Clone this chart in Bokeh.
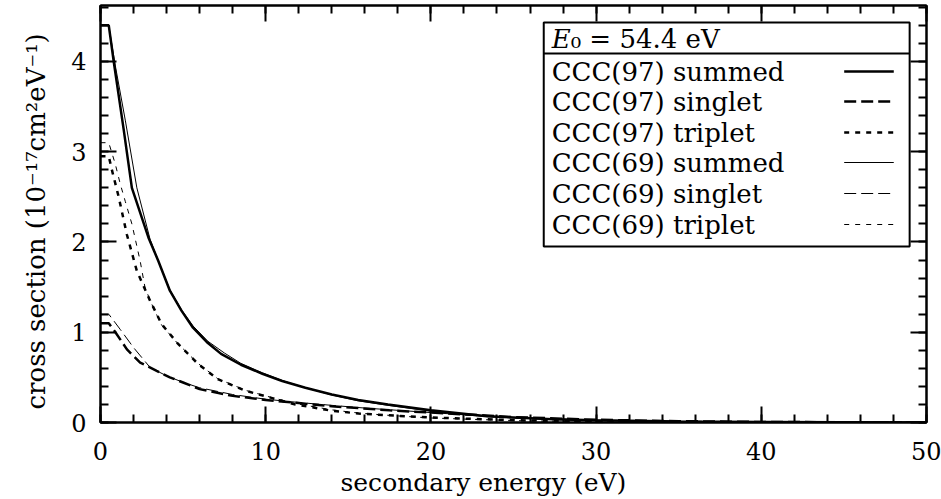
from bokeh.plotting import figure
from bokeh.models import (Range1d, LinearAxis, SingleIntervalTicker, Title,
                          CustomJSTickFormatter)
from bokeh.embed import file_html
from bokeh.resources import INLINE
from bokeh.core.properties import value

# ---------------- data ----------------
x_sum97 = [0, 0.5, 0.8, 1.4, 1.9, 2.9, 3.5, 4.2, 4.9, 5.6, 6.5, 7.3, 8.5, 9.8, 11, 12.4, 14, 15.6, 17.4, 20, 23.4, 27.4, 30, 35, 40, 45, 50]
y_sum97 = [4.4, 4.4, 4.0, 3.25, 2.6, 2.05, 1.79, 1.46, 1.24, 1.05, 0.88, 0.76, 0.64, 0.54, 0.46, 0.385, 0.31, 0.25, 0.2, 0.135, 0.07, 0.036, 0.024, 0.012, 0.006, 0.003, 0.001]

x_sin97 = [0, 0.5, 0.9, 1.6, 2.4, 3.4, 4.2, 5.0, 6.0, 8.0, 10, 12, 14, 15.6, 17.5, 20, 22.5, 25, 30, 35, 40, 45, 50]
y_sin97 = [1.1, 1.1, 1.0, 0.81, 0.664, 0.572, 0.5, 0.443, 0.37, 0.295, 0.25, 0.215, 0.18, 0.16, 0.135, 0.11, 0.085, 0.06, 0.03, 0.015, 0.006, 0.003, 0.001]

x_tri97 = [0, 0.5, 0.7, 1.1, 1.6, 2.2, 3.0, 3.7, 4.7, 5.9, 7.1, 8.8, 10.4, 11.8, 14, 15.6, 17.4, 20, 22.5, 25.4, 30, 35, 40, 45, 50]
y_tri97 = [2.95, 2.95, 2.79, 2.5, 2.08, 1.68, 1.35, 1.09, 0.87, 0.65, 0.48, 0.35, 0.27, 0.2, 0.13, 0.1, 0.08, 0.055, 0.04, 0.024, 0.01, 0.005, 0.002, 0.001, 0.0]

x_sum69 = [0, 0.5, 0.9, 1.5, 2.2, 3.0, 3.5, 4.2, 4.9, 5.6, 6.5, 7.5, 8.5, 9.8, 11, 12.4, 14, 15.6, 17.4, 20, 23.4, 27.4, 30, 35, 40, 45, 50]
y_sum69 = [4.4, 4.4, 3.95, 3.35, 2.6, 2.03, 1.79, 1.47, 1.25, 1.07, 0.9, 0.77, 0.655, 0.55, 0.465, 0.385, 0.305, 0.24, 0.19, 0.125, 0.065, 0.032, 0.022, 0.011, 0.005, 0.002, 0.001]

x_sin69 = [0, 0.5, 1.2, 2.0, 3.0, 4.0, 5.0, 6.0, 8.0, 10, 12, 14, 16, 18, 20, 22.5, 25, 30, 35, 40, 45, 50]
y_sin69 = [1.2, 1.2, 1.03, 0.83, 0.61, 0.517, 0.445, 0.385, 0.31, 0.258, 0.222, 0.19, 0.16, 0.135, 0.11, 0.08, 0.055, 0.025, 0.012, 0.005, 0.002, 0.001]

x_tri69 = [0, 0.5, 0.9, 1.2, 1.5, 1.9, 2.4, 2.7, 3.2, 3.7, 4.7, 5.9, 7.1, 8.8, 10.4, 11.8, 14, 15.6, 17.4, 20, 22.5, 25.4, 30, 35, 40, 45, 50]
y_tri69 = [3.1, 3.1, 2.86, 2.64, 2.45, 2.2, 1.79, 1.49, 1.27, 1.08, 0.87, 0.655, 0.485, 0.355, 0.275, 0.21, 0.14, 0.105, 0.08, 0.05, 0.035, 0.02, 0.008, 0.004, 0.002, 0.001, 0.0]

series_labels = ["CCC(97) summed", "CCC(97) singlet", "CCC(97) triplet",
                 "CCC(69) summed", "CCC(69) singlet", "CCC(69) triplet"]
legend_title_sym = "E"
legend_title_rest = "\u2080 = 54.4 eV"
x_title = "secondary energy (eV)"
y_title = "cross section (10\u207b\u00b9\u2077cm\u00b2eV\u207b\u00b9)"

x_lo, x_hi = 0, 50
y_lo, y_hi = 0, 4.62

# ---------------- layout / styles ----------------
FONT = "DejaVu Serif"
W, H = 941, 499
B_LEFT, B_RIGHT, B_TOP, B_BOTTOM = 93, 15, 5, 77
FW = W - B_LEFT - B_RIGHT       # frame width in px
FH = H - B_TOP - B_BOTTOM       # frame height in px

series = [
    (x_sum97, y_sum97, 2.5, "solid"),
    (x_sin97, y_sin97, 2.5, "12 5"),
    (x_tri97, y_tri97, 2.5, "5 6"),
    (x_sum69, y_sum69, 1.0, "solid"),
    (x_sin69, y_sin69, 1.0, "12 5"),
    (x_tri69, y_tri69, 1.0, "5 6"),
]

p = figure(width=W, height=H, output_backend="svg", toolbar_location=None,
           x_range=Range1d(x_lo, x_hi), y_range=Range1d(y_lo, y_hi),
           min_border_left=B_LEFT, min_border_right=B_RIGHT,
           min_border_top=B_TOP, min_border_bottom=B_BOTTOM)
p.background_fill_color = "white"
p.border_fill_color = "white"
p.outline_line_color = "black"
p.outline_line_width = 2
p.xgrid.visible = False
p.ygrid.visible = False


def style_axis(ax, labels):
    ax.axis_line_color = "black"
    ax.axis_line_width = 2
    ax.major_tick_in = 16
    ax.major_tick_out = 0
    ax.minor_tick_in = 8
    ax.minor_tick_out = 0
    ax.major_tick_line_color = "black"
    ax.minor_tick_line_color = "black"
    ax.major_tick_line_width = 2
    ax.minor_tick_line_width = 2
    if labels:
        ax.major_label_text_font = FONT
        ax.major_label_text_font_size = "24px"
        ax.major_label_text_color = "black"
    else:
        ax.formatter = CustomJSTickFormatter(code="return ''")
        ax.major_label_text_font_size = "1px"
        ax.major_label_standoff = 0


xa = p.xaxis[0]
xa.ticker = SingleIntervalTicker(interval=10, num_minor_ticks=5)
style_axis(xa, True)
xa.major_label_standoff = 19

ya = p.yaxis[0]
ya.ticker = SingleIntervalTicker(interval=1, num_minor_ticks=5)
style_axis(ya, True)
ya.major_label_standoff = 14

top_ax = LinearAxis(ticker=SingleIntervalTicker(interval=10, num_minor_ticks=5))
style_axis(top_ax, False)
p.add_layout(top_ax, "above")
right_ax = LinearAxis(ticker=SingleIntervalTicker(interval=1, num_minor_ticks=5))
style_axis(right_ax, False)
p.add_layout(right_ax, "right")

# axis titles, offset along the axis as in the reference
p.add_layout(Title(text=x_title, align="left", offset=240, standoff=6,
                   text_font=FONT, text_font_size="25px",
                   text_font_style="normal", text_color="black"), "below")
p.add_layout(Title(text=y_title, align="left", offset=13, standoff=36,
                   text_font=FONT, text_font_size="26px",
                   text_font_style="normal", text_color="black"), "left")

for xs, ys, lw, dash in series:
    p.line(xs, ys, line_color="black", line_width=lw, line_dash=dash)


# pixel offsets from the frame's left / bottom edge -> data units
def px_x(px):
    return x_lo + px * (x_hi - x_lo) / FW


def px_y(px):
    return y_lo + px * (y_hi - y_lo) / FH


# ---------------- legend box ----------------
box_l, box_r = px_x(447), px_x(816)
box_t, box_b = px_y(400), px_y(176)
sep_y = px_y(369)
text_x = px_x(455)
title_y = px_y(384)
row_y = [px_y(v) for v in (351, 321, 290, 260, 229, 198)]
samp_x0, samp_x1 = px_x(750), px_x(800)

p.quad(left=[box_l], right=[box_r], top=[box_t], bottom=[box_b],
       fill_color="white", line_color="black", line_width=2)
p.segment(x0=[box_l], x1=[box_r], y0=[sep_y], y1=[sep_y],
          line_color="black", line_width=2)
p.text(x=[text_x], y=[title_y], text=[legend_title_sym], text_font=value(FONT),
       text_font_size=value("26px"), text_font_style="italic",
       text_baseline="middle", text_align="left", text_color="black")
p.text(x=[text_x], y=[title_y], text=[legend_title_rest], text_font=value(FONT),
       text_font_size=value("26px"), x_offset=19,
       text_baseline="middle", text_align="left", text_color="black")

p.text(x=[text_x] * len(series_labels), y=row_y, text=series_labels,
       text_font=value(FONT), text_font_size=value("26px"),
       text_baseline="middle", text_align="left", text_color="black")
for (xs, ys, lw, dash), yy in zip(series, row_y):
    p.segment(x0=[samp_x0], x1=[samp_x1], y0=[yy], y1=[yy],
              line_color="black", line_width=lw, line_dash=dash)

open("out.html", "w").write(file_html(p, INLINE))
